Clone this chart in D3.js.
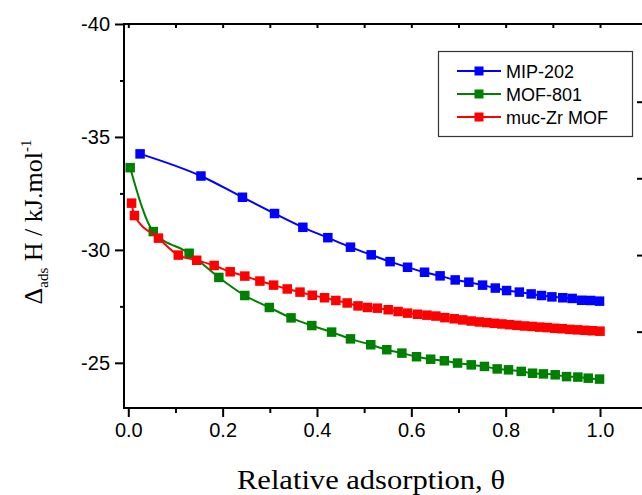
<!DOCTYPE html>
<html><head><meta charset="utf-8">
<script src="https://cdn.jsdelivr.net/npm/d3@7"></script>
<style>body{margin:0;background:#fff}</style>
</head><body>
<svg id="c" width="642" height="495"></svg>
<script>
// ---- data ----
const seriesNames = ["MIP-202", "MOF-801", "muc-Zr MOF"];
const mipTheta = [0.025,0.154,0.242,0.310,0.370,0.423,0.471,0.515,0.555,0.592,0.628,0.661,0.693,0.722,0.751,0.778,0.802,0.829,0.854,0.876,0.898,0.921,0.941,0.961,0.980,0.999];
const mipH = [-34.25,-33.27,-32.33,-31.61,-31.00,-30.54,-30.12,-29.78,-29.48,-29.23,-29.01,-28.85,-28.67,-28.57,-28.44,-28.31,-28.20,-28.13,-28.05,-27.98,-27.92,-27.88,-27.85,-27.77,-27.76,-27.73];
const mofTheta = [0.004,0.053,0.129,0.192,0.247,0.299,0.345,0.389,0.431,0.471,0.514,0.548,0.580,0.611,0.641,0.670,0.698,0.727,0.755,0.782,0.806,0.833,0.857,0.880,0.905,0.929,0.953,0.975,0.999];
const mofH = [-33.64,-30.81,-29.85,-28.78,-27.98,-27.45,-26.99,-26.65,-26.36,-26.06,-25.80,-25.58,-25.43,-25.27,-25.16,-25.09,-24.99,-24.91,-24.84,-24.73,-24.69,-24.62,-24.54,-24.51,-24.47,-24.39,-24.37,-24.32,-24.28];
const mucTheta = [0.007,0.013,0.064,0.106,0.145,0.182,0.216,0.247,0.279,0.308,0.337,0.364,0.390,0.416,0.440,0.464,0.487,0.507,0.528,0.551,0.572,0.592,0.613,0.633,0.652,0.671,0.691,0.709,0.727,0.744,0.760,0.776,0.792,0.808,0.824,0.840,0.856,0.872,0.888,0.904,0.920,0.936,0.952,0.968,0.984,1.000];
const mucH = [-32.07,-31.52,-30.52,-29.77,-29.54,-29.31,-29.03,-28.84,-28.62,-28.44,-28.27,-28.13,-27.99,-27.88,-27.76,-27.65,-27.52,-27.45,-27.42,-27.35,-27.27,-27.20,-27.15,-27.11,-27.07,-27.00,-26.95,-26.90,-26.85,-26.81,-26.78,-26.75,-26.72,-26.69,-26.66,-26.63,-26.61,-26.58,-26.56,-26.53,-26.51,-26.48,-26.46,-26.44,-26.42,-26.40];
const xMajorTicks = [0,0.2,0.4,0.6,0.8,1.0];
const xMinorTicks = [0.1,0.3,0.5,0.7,0.9];
const yMajorTicks = [-40,-35,-30,-25];
const yMinorTicks = [-37.5,-32.5,-27.5];
const rightTicks = [-36.56,-33.17,-29.77,-26.38];
const colors = ["#0000ff","#008000","#ff0000"];

const series = [
  {name: seriesNames[0], color: colors[0], pts: mipTheta.map((t,i)=>[t,mipH[i]])},
  {name: seriesNames[1], color: colors[1], pts: mofTheta.map((t,i)=>[t,mofH[i]])},
  {name: seriesNames[2], color: colors[2], pts: mucTheta.map((t,i)=>[t,mucH[i]])}
];

// ---- layout ----
const L = 124, R = 642, T = 24, B = 408;
const svg = d3.select("#c");
const x = d3.scaleLinear().domain([-0.0091, 1.089]).range([L, R]);
const y = d3.scaleLinear().domain([-23, -40]).range([B, T]);
const sans = "'Liberation Sans', Arial, sans-serif";
const serif = "'Liberation Serif', 'DejaVu Serif', serif";

// axes
svg.append("g").attr("transform", `translate(0,${B})`)
  .call(d3.axisBottom(x).tickValues(xMajorTicks).tickSize(9).tickPadding(6).tickFormat(d => d.toFixed(1)));
svg.append("g").attr("transform", `translate(0,${B})`)
  .call(d3.axisBottom(x).tickValues(xMinorTicks).tickSize(5).tickFormat(""));
svg.append("g").attr("transform", `translate(${L},0)`)
  .call(d3.axisLeft(y).tickValues(yMajorTicks).tickSize(9).tickPadding(5).tickFormat(d => String(d)));
svg.append("g").attr("transform", `translate(${L},0)`)
  .call(d3.axisLeft(y).tickValues(yMinorTicks).tickSize(4).tickFormat(""));
svg.append("g").attr("transform", `translate(0,${T})`)
  .call(d3.axisBottom(x).tickValues(xMajorTicks.concat(xMinorTicks)).tickSize(4).tickFormat(""));
svg.append("g").attr("transform", `translate(${R},0)`)
  .call(d3.axisRight(y).tickValues(rightTicks).tickSize(-5).tickFormat(""));
svg.selectAll(".domain").remove();
svg.selectAll(".tick line").attr("stroke", "#000").attr("stroke-width", 2);
svg.selectAll(".tick text").attr("font-family", sans).attr("font-size", 20).attr("fill", "#000");

// frame
svg.append("path").attr("d", `M${R},${T}H${L}V${B}H${R}`)
  .attr("fill", "none").attr("stroke", "#000").attr("stroke-width", 2);

// series
const line = d3.line().x(d => x(d[0])).y(d => y(d[1])).curve(d3.curveMonotoneX);
const ms = 9.5;
series.forEach(s => {
  svg.append("path").attr("d", line(s.pts)).attr("fill", "none")
    .attr("stroke", s.color).attr("stroke-width", 2);
  svg.append("g").selectAll("rect").data(s.pts).join("rect")
    .attr("x", d => x(d[0]) - ms/2).attr("y", d => y(d[1]) - ms/2)
    .attr("width", ms).attr("height", ms).attr("fill", s.color);
});

// legend
const lg = svg.append("g");
lg.append("rect").attr("x", 438.5).attr("y", 51.5).attr("width", 194).attr("height", 85)
  .attr("fill", "#fff").attr("stroke", "#333").attr("stroke-width", 1.2);
series.forEach((s, i) => {
  const cy = 71 + i * 23;
  lg.append("line").attr("x1", 457).attr("x2", 501).attr("y1", cy).attr("y2", cy)
    .attr("stroke", s.color).attr("stroke-width", 2);
  lg.append("rect").attr("x", 479 - 4.5).attr("y", cy - 4.5).attr("width", 9).attr("height", 9).attr("fill", s.color);
  lg.append("text").attr("x", 506).attr("y", cy + 6.5).text(s.name)
    .attr("font-family", sans).attr("font-size", 18).attr("fill", "#000");
});

// axis titles
svg.append("text").attr("x", 371).attr("y", 489).attr("text-anchor", "middle")
  .attr("font-family", serif).attr("font-size", 28).attr("fill", "#000")
  .attr("textLength", 268).attr("lengthAdjust", "spacingAndGlyphs")
  .text("Relative adsorption, \u03b8");

const yt = svg.append("text").attr("transform", "translate(42,222) rotate(-90)")
  .attr("text-anchor", "middle").attr("font-family", serif).attr("font-size", 26).attr("fill", "#000");
yt.append("tspan").text("\u0394");
yt.append("tspan").attr("font-size", 15).attr("dy", 6).text("ads");
yt.append("tspan").attr("dy", -6).text(" H / kJ.mol");
yt.append("tspan").attr("font-size", 15).attr("dy", -11).text("-1");
</script>
</body></html>
